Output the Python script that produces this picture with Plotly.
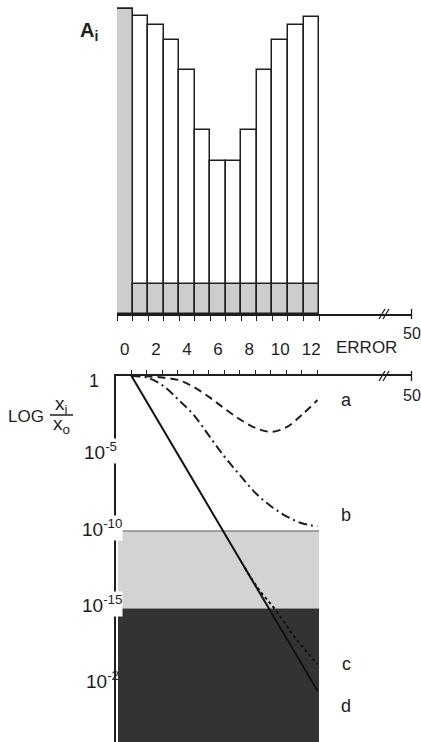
import plotly.graph_objects as go

# ---------------- data ----------------
errors = [0, 1, 2, 3, 4, 5, 6, 7, 8, 9, 10, 11, 12]
A_total = [100, 97.7, 94.8, 89.8, 80.0, 60.3, 50.2, 50.2, 60.3, 80.0, 89.8, 94.8, 97.4]
A_shaded = [100, 9.8, 9.8, 9.8, 9.8, 9.8, 9.8, 9.8, 9.8, 9.8, 9.8, 9.8, 9.8]
top_ticks = [0, 2, 4, 6, 8, 10, 12]

x_a = [1, 2, 3, 4, 5, 6, 7, 8, 9, 10, 11, 12, 13]
log_a = [0, -0.02, -0.1, -0.25, -0.7, -1.35, -2.1, -2.8, -3.35, -3.6, -3.3, -2.5, -1.55]
x_b = [1, 2, 3, 4, 5, 6, 7, 8, 9, 10, 11, 12, 13]
log_b = [0, -0.1, -0.6, -1.5, -2.5, -3.85, -5.2, -6.4, -7.55, -8.4, -9.05, -9.5, -9.7]
x_c = [8.3, 9.2, 10.3, 11.5, 13]
log_c = [-12.35, -13.75, -15.1, -16.8, -18.6]
x_d = [1, 13]
log_d = [0, -20.3]
band_light = [-10, -15]
band_dark = [-15, -23.61]
band_x = [0.13, 13.1]

W, H = 421, 742
def px(x):
    return x / W
def py(y):
    return (H - y) / H

INK = "#1e1e1e"
FONT = "Liberation Sans"

fig = go.Figure()
fig.add_trace(go.Bar(x=errors, y=A_total, width=1, marker=dict(color="white", line=dict(color=INK, width=1.5)),
                     xaxis="x", yaxis="y", showlegend=False))
fig.add_trace(go.Bar(x=errors, y=A_shaded, width=1, marker=dict(color="#cdcdcd", line=dict(color=INK, width=1.5)),
                     xaxis="x", yaxis="y", showlegend=False))

fig.add_trace(go.Scatter(x=x_a, y=log_a, mode="lines", line=dict(color=INK, width=2, dash="8px,5px", shape="spline"),
                         xaxis="x2", yaxis="y2", showlegend=False))
fig.add_trace(go.Scatter(x=x_b, y=log_b, mode="lines", line=dict(color=INK, width=2, dash="9px,4px,2px,4px", shape="spline"),
                         xaxis="x2", yaxis="y2", showlegend=False))
fig.add_trace(go.Scatter(x=x_c, y=log_c, mode="lines", line=dict(color="#111", width=2, dash="dot", shape="spline"),
                         xaxis="x2", yaxis="y2", showlegend=False))
fig.add_trace(go.Scatter(x=x_d, y=log_d, mode="lines", line=dict(color="#111", width=2),
                         xaxis="x2", yaxis="y2", showlegend=False))

shapes = [
    dict(type="rect", xref="x2", yref="y2", x0=band_x[0], x1=band_x[1], y0=band_light[0], y1=band_light[1],
         fillcolor="#d3d3d3", line=dict(width=0), layer="below"),
    dict(type="line", xref="x2", yref="y2", x0=band_x[0], x1=band_x[1], y0=band_light[0], y1=band_light[0],
         line=dict(color="#8a8a8a", width=1.5), layer="below"),
    dict(type="rect", xref="x2", yref="y2", x0=band_x[0], x1=band_x[1], y0=band_dark[0], y1=band_dark[1],
         fillcolor="#333333", line=dict(width=0), layer="below"),
]
# axis breaks and end ticks
for (yb, y0, y1) in [(314, 319, 309), (376, 381, 371)]:
    for xo in (379, 383):
        shapes.append(dict(type="line", xref="paper", yref="paper", x0=px(xo), x1=px(xo + 6), y0=py(y0), y1=py(y1),
                           line=dict(color=INK, width=1.3)))
    shapes.append(dict(type="line", xref="paper", yref="paper", x0=px(411.5), x1=px(411.5), y0=py(yb - 5), y1=py(yb + 5),
                       line=dict(color=INK, width=1.3)))
# fraction bar
shapes.append(dict(type="line", xref="paper", yref="paper", x0=px(50), x1=px(73), y0=py(415), y1=py(415),
                   line=dict(color=INK, width=1.5)))

def ann(text, x, y, size=16, xanchor="center", bold=False, bg=None):
    d = dict(text=("<b>%s</b>" % text) if bold else text, x=px(x), y=py(y), xref="paper", yref="paper",
             showarrow=False, xanchor=xanchor, yanchor="middle", borderpad=0,
             font=dict(size=size, color=INK, family=FONT))
    if bg:
        d["bgcolor"] = bg
    return d

annotations = [
    ann("A<sub>i</sub>", 89, 32, size=20, bold=True),
    ann("ERROR", 366, 347, size=17),
    ann("50", 412, 333, size=16),
    ann("50", 412, 395, size=16),
    ann("1", 94, 381, size=18),
    ann("LOG", 26, 416, size=17),
    ann("x<sub>i</sub>", 61, 405, size=19),
    ann("x<sub>o</sub>", 61, 425, size=19),
    ann("10<sup>-5</sup>", 118, 451, size=19, xanchor="right", bg="white"),
    ann("10<sup>-10</sup>", 123, 528, size=19, xanchor="right", bg="white"),
    ann("10<sup>-15</sup>", 123, 604, size=19, xanchor="right", bg="white"),
    ann("10<sup>-2</sup>", 120, 680, size=19, xanchor="right"),
    ann("a", 346, 400, size=18),
    ann("b", 346, 515, size=18),
    ann("c", 346, 664, size=18),
    ann("d", 346, 706, size=18),
]

fig.update_layout(
    width=W, height=H, margin=dict(l=0, r=0, t=0, b=0),
    paper_bgcolor="white", plot_bgcolor="rgba(0,0,0,0)",
    barmode="overlay", bargap=0,
    font=dict(family=FONT, color=INK),
    shapes=shapes, annotations=annotations,
    xaxis=dict(domain=[px(117), px(412)], range=[-0.5, 18.48], anchor="y",
               showline=True, linecolor=INK, linewidth=1.5, showgrid=False, zeroline=False,
               tickmode="array", tickvals=top_ticks, ticktext=[str(t) for t in top_ticks],
               ticks="outside", ticklen=0, ticklabelstandoff=19,
               tickfont=dict(size=17, color=INK, family=FONT),
               minor=dict(tickmode="array", tickvals=[e - 0.5 for e in errors] + [12.5],
                          ticks="outside", ticklen=5, tickcolor=INK, tickwidth=1.3)),
    yaxis=dict(domain=[py(314), 1.0], range=[0, 102.95], anchor="x", visible=False, showgrid=False),
    xaxis2=dict(domain=[px(116), px(412)], range=[0, 19.1], anchor="y2", side="top",
                showline=True, linecolor=INK, linewidth=1.5, showgrid=False, zeroline=False,
                tickmode="array", tickvals=x_a, ticks="outside", ticklen=4, tickcolor=INK, tickwidth=1.2,
                showticklabels=False),
    yaxis2=dict(domain=[0, py(376)], range=[-23.61, 0], anchor="x2",
                showline=True, linecolor=INK, linewidth=1.5, showgrid=False, zeroline=False,
                showticklabels=False, ticks=""),
)

fig.write_html("out.html")
